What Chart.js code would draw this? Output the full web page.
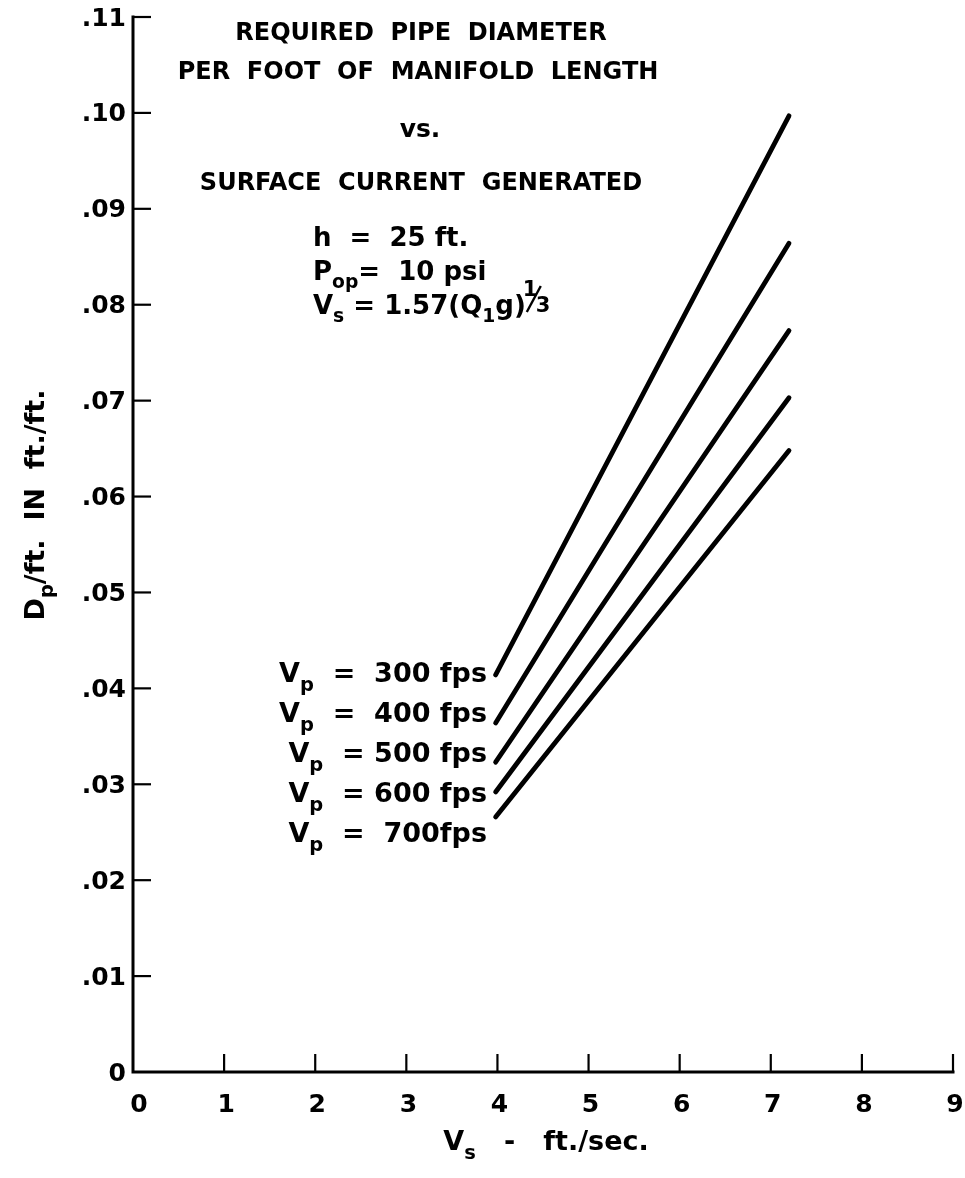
<!DOCTYPE html>
<html>
<head>
<meta charset="utf-8">
<script src="https://cdn.jsdelivr.net/npm/chart.js@4.4.1/dist/chart.umd.min.js"></script>
<style>
  html, body { margin: 0; padding: 0; background: #fff; }
  #wrap { width: 965px; height: 1178px; position: relative; }
</style>
</head>
<body>
<div id="wrap"><canvas id="c" width="965" height="1178"></canvas></div>
<script>
// Surface current speed Vs (ft/sec) at the two ends of each curve
const vsValues = [3.98, 7.2];

// Required pipe diameter per foot of manifold (ft/ft) for each nozzle velocity
const dp300 = [0.0414, 0.0997];
const dp400 = [0.0364, 0.0864];
const dp500 = [0.0323, 0.0773];
const dp600 = [0.0292, 0.0703];
const dp700 = [0.0266, 0.0648];

// Curve labels (nozzle velocity Vp)
const curveLabels = ['  =  300 fps', '  =  400 fps', '  = 500 fps', '  = 600 fps', '  =  700fps'];

// Axis ticks
const xTickValues = [0, 1, 2, 3, 4, 5, 6, 7, 8, 9];
const xTickLabels = ['0', '1', '2', '3', '4', '5', '6', '7', '8', '9'];
const yTickValues = [0, 0.01, 0.02, 0.03, 0.04, 0.05, 0.06, 0.07, 0.08, 0.09, 0.10, 0.11];
const yTickLabels = ['0', '.01', '.02', '.03', '.04', '.05', '.06', '.07', '.08', '.09', '.10', '.11'];

const FONT = '"DejaVu Sans", sans-serif';

function pts(ys) { return vsValues.map((x, i) => ({ x: x, y: ys[i] })); }

function lineSet(ys) {
  return {
    data: pts(ys),
    borderColor: '#000',
    borderWidth: 4.8,
    borderCapStyle: 'round',
    pointRadius: 0,
    fill: false,
    tension: 0
  };
}

// Draws a run of text pieces; pieces may be subscripts
function richText(ctx, parts, x, y, size, align) {
  const w = parts.map(p => {
    ctx.font = 'bold ' + (p.sub ? size * 0.72 : size) + 'px ' + FONT;
    return ctx.measureText(p.t).width + (p.gap || 0);
  });
  const total = w.reduce((a, b) => a + b, 0);
  let cx = align === 'right' ? x - total : align === 'center' ? x - total / 2 : x;
  ctx.textBaseline = 'alphabetic';
  ctx.textAlign = 'left';
  parts.forEach((p, i) => {
    const s = p.sub ? size * 0.72 : size;
    ctx.font = 'bold ' + s + 'px ' + FONT;
    ctx.fillText(p.t, cx, y + (p.sub ? size * 0.32 : 0));
    cx += w[i];
  });
  return total;
}

const decor = {
  id: 'decor',
  afterDraw(chart) {
    const ctx = chart.ctx;
    const xs = chart.scales.x, ys = chart.scales.y;
    const L = xs.getPixelForValue(0), R = xs.getPixelForValue(9);
    const T = ys.getPixelForValue(0.11), B = ys.getPixelForValue(0);
    ctx.save();
    ctx.strokeStyle = '#000';
    ctx.fillStyle = '#000';

    // axis lines
    ctx.lineWidth = 3;
    ctx.lineCap = 'square';
    ctx.beginPath();
    ctx.moveTo(L, T);
    ctx.lineTo(L, B);
    ctx.lineTo(R, B);
    ctx.stroke();

    // inward tick marks
    ctx.lineWidth = 2.2;
    ctx.lineCap = 'butt';
    yTickValues.forEach(v => {
      if (v === 0) return;
      const py = ys.getPixelForValue(v);
      ctx.beginPath(); ctx.moveTo(L, py); ctx.lineTo(L + 18, py); ctx.stroke();
    });
    xTickValues.forEach(v => {
      if (v === 0) return;
      const px = xs.getPixelForValue(v);
      ctx.beginPath(); ctx.moveTo(px, B); ctx.lineTo(px, B - 18); ctx.stroke();
    });

    // tick labels
    ctx.font = 'bold 25px ' + FONT;
    ctx.textAlign = 'right';
    ctx.textBaseline = 'middle';
    yTickValues.forEach((v, i) => {
      ctx.fillText(yTickLabels[i], L - 7, ys.getPixelForValue(v) + 2);
    });
    ctx.textAlign = 'center';
    xTickValues.forEach((v, i) => {
      ctx.fillText(xTickLabels[i], xs.getPixelForValue(v) + (v === 0 ? 6 : 2), B + 33);
    });

    // x axis title
    richText(ctx, [{ t: 'V' }, { t: 's', sub: true }, { t: '   -   ft./sec.' }], 546, 1150, 27, 'center');

    // y axis title, reading upward
    ctx.save();
    ctx.translate(44, 505);
    ctx.rotate(-Math.PI / 2);
    richText(ctx, [{ t: 'D' }, { t: 'p', sub: true }, { t: '/ft.  IN  ft./ft.' }], 0, 0, 27, 'center');
    ctx.restore();

    // heading
    ctx.font = 'bold 24px ' + FONT;
    ctx.textAlign = 'center';
    ctx.textBaseline = 'middle';
    ctx.fillText('REQUIRED  PIPE  DIAMETER', 421, 34);
    ctx.fillText('PER  FOOT  OF  MANIFOLD  LENGTH', 418, 73);
    ctx.font = 'bold 25px ' + FONT;
    ctx.fillText('vs.', 420, 130);
    ctx.font = 'bold 24px ' + FONT;
    ctx.fillText('SURFACE  CURRENT  GENERATED', 421, 184);

    // operating conditions
    richText(ctx, [{ t: 'h  =  25 ft.' }], 313, 246, 26, 'left');
    richText(ctx, [{ t: 'P' }, { t: 'op', sub: true }, { t: '=  10 psi' }], 313, 280, 26, 'left');
    const w = richText(ctx, [{ t: 'V' }, { t: 's', sub: true }, { t: ' = 1.57(Q' }, { t: '1', sub: true }, { t: 'g)' }], 313, 314, 26, 'left');

    // one-third exponent, hand-lettered style
    const fx = 313 + w - 3;
    ctx.font = 'bold 21px ' + FONT;
    ctx.textAlign = 'left';
    ctx.textBaseline = 'alphabetic';
    ctx.fillText('1', fx, 296);
    ctx.lineWidth = 2.4;
    ctx.beginPath(); ctx.moveTo(fx + 4, 312); ctx.lineTo(fx + 18, 286); ctx.stroke();
    ctx.fillText('3', fx + 13, 312);

    // curve labels
    const rowY = [682, 722, 762, 802, 842];
    curveLabels.forEach((s, i) => {
      richText(ctx, [{ t: 'V' }, { t: 'p', sub: true }, { t: s }], 487, rowY[i], 27, 'right');
    });

    ctx.restore();
  }
};

new Chart(document.getElementById('c'), {
  type: 'line',
  data: {
    datasets: [lineSet(dp300), lineSet(dp400), lineSet(dp500), lineSet(dp600), lineSet(dp700)]
  },
  options: {
    responsive: false,
    animation: false,
    layout: { padding: { left: 133, right: 12, top: 17, bottom: 106 } },
    plugins: { legend: { display: false }, tooltip: { enabled: false }, title: { display: false } },
    scales: {
      x: { type: 'linear', min: 0, max: 9, display: false },
      y: { type: 'linear', min: 0, max: 0.11, display: false }
    }
  },
  plugins: [decor]
});
</script>
</body>
</html>
